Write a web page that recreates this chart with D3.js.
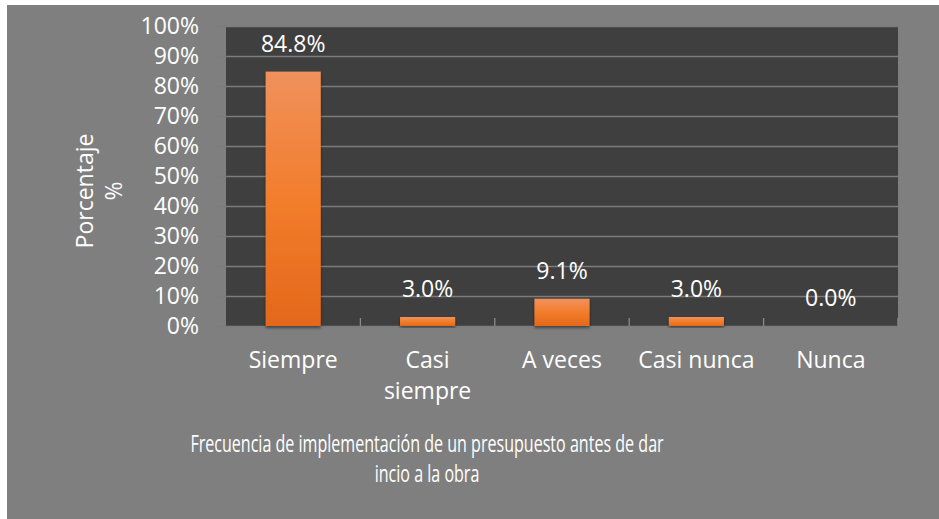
<!DOCTYPE html>
<html>
<head>
<meta charset="utf-8">
<script src="https://cdn.jsdelivr.net/npm/d3@7"></script>
<style>
  body { margin: 0; background: #fff; }
  svg text { font-family: 'Open Sans', sans-serif; fill: #fff; }
</style>
</head>
<body>
<div id="container"></div>
<script>
const categories = [['Siempre'], ['Casi', 'siempre'], ['A veces'], ['Casi nunca'], ['Nunca']];
const values = [84.8, 3.0, 9.1, 3.0, 0.0];
const yTicks = [0, 10, 20, 30, 40, 50, 60, 70, 80, 90, 100];
const yTitle = ['Porcentaje', '%'];
const xTitle = ['Frecuencia de implementación de un presupuesto antes de dar', 'incio a la obra'];

const width = 939, height = 519;
const margin = { top: 26, right: 41, bottom: 193, left: 226 };
const plotW = width - margin.left - margin.right;
const plotH = height - margin.top - margin.bottom;

const svg = d3.select('#container').append('svg')
  .attr('width', width)
  .attr('height', height);

const defs = svg.append('defs');
const grad = defs.append('linearGradient')
  .attr('id', 'barFill')
  .attr('x1', 0).attr('y1', 0).attr('x2', 0).attr('y2', 1);
grad.append('stop').attr('offset', '0%').attr('stop-color', '#f0915c');
grad.append('stop').attr('offset', '50%').attr('stop-color', '#f27d2c');
grad.append('stop').attr('offset', '100%').attr('stop-color', '#e4681a');

const shadow = defs.append('filter').attr('id', 'shadow')
  .attr('x', '-20%').attr('y', '-20%').attr('width', '140%').attr('height', '140%');
shadow.append('feDropShadow')
  .attr('dx', 0).attr('dy', 2).attr('stdDeviation', 1.5)
  .attr('flood-color', '#000').attr('flood-opacity', 0.45);

// outer background
svg.append('rect')
  .attr('x', 7).attr('y', 5)
  .attr('width', width - 7).attr('height', height - 5)
  .attr('fill', '#7f7f7f');

const g = svg.append('g')
  .attr('transform', `translate(${margin.left}, ${margin.top})`);

g.append('rect')
  .attr('width', plotW).attr('height', plotH)
  .attr('fill', '#3f3f3f');

const x = d3.scaleBand()
  .domain(d3.range(categories.length))
  .range([0, plotW])
  .paddingInner(0.59)
  .paddingOuter(0.295);

const y = d3.scaleLinear().domain([0, 100]).range([plotH, 0]);

// gridlines + y labels
const yAxis = g.append('g')
  .call(d3.axisLeft(y).tickValues(yTicks).tickSize(-plotW - 9).tickPadding(7).tickFormat((d) => d + '%'));
yAxis.select('.domain').remove();
yAxis.selectAll('.tick line')
  .attr('x1', plotW).attr('x2', -9)
  .attr('stroke', '#7c7c7c').attr('stroke-width', 1.3);
yAxis.selectAll('.tick text')
  .attr('x', -27)
  .style('font-size', '23px')
  .style('font-family', "'Open Sans', sans-serif")
  .attr('fill', '#fff');

// category separator ticks along the bottom
const bounds = d3.range(1, categories.length + 1).map((i) => i * x.step());
g.append('g').selectAll('line')
  .data(bounds).enter()
  .append('line')
  .attr('x1', (d) => d).attr('x2', (d) => d)
  .attr('y1', plotH).attr('y2', plotH - 8)
  .attr('stroke', '#8a8a8a').attr('stroke-width', 1.3);

// bars
g.append('g').selectAll('rect')
  .data(values).enter()
  .append('rect')
  .attr('x', (d, i) => x(i))
  .attr('y', (d) => y(d))
  .attr('width', x.bandwidth())
  .attr('height', (d) => plotH - y(d))
  .attr('fill', 'url(#barFill)')
  .attr('filter', 'url(#shadow)');

// value labels
g.append('g').selectAll('text')
  .data(values).enter()
  .append('text')
  .attr('x', (d, i) => x(i) + x.bandwidth() / 2)
  .attr('y', (d) => y(d) - 20)
  .attr('text-anchor', 'middle')
  .style('font-size', '23px')
  .text((d) => d.toFixed(1) + '%');

// category labels
const catLabels = g.append('g').selectAll('text')
  .data(categories).enter()
  .append('text')
  .attr('x', (d, i) => x(i) + x.bandwidth() / 2)
  .attr('y', plotH + 42)
  .attr('text-anchor', 'middle')
  .style('font-size', '23px');
catLabels.selectAll('tspan')
  .data((d) => d).enter()
  .append('tspan')
  .attr('x', function () { return d3.select(this.parentNode).attr('x'); })
  .attr('dy', (d, i) => i === 0 ? 0 : 31)
  .text((d) => d);

// y title
const yt = svg.append('text')
  .attr('transform', 'translate(93, 191) rotate(-90)')
  .attr('text-anchor', 'middle')
  .style('font-size', '23px');
yt.selectAll('tspan')
  .data(yTitle).enter()
  .append('tspan')
  .attr('x', 0)
  .attr('dy', (d, i) => i === 0 ? 0 : 29)
  .text((d) => d);

// x title (narrow text box in the original)
svg.append('g').selectAll('text')
  .data(xTitle).enter()
  .append('text')
  .attr('transform', (d, i) => `translate(427, ${452 + i * 30}) scale(0.67, 1)`)
  .attr('text-anchor', 'middle')
  .style('font-size', '24px')
  .text((d) => d);
</script>
</body>
</html>
